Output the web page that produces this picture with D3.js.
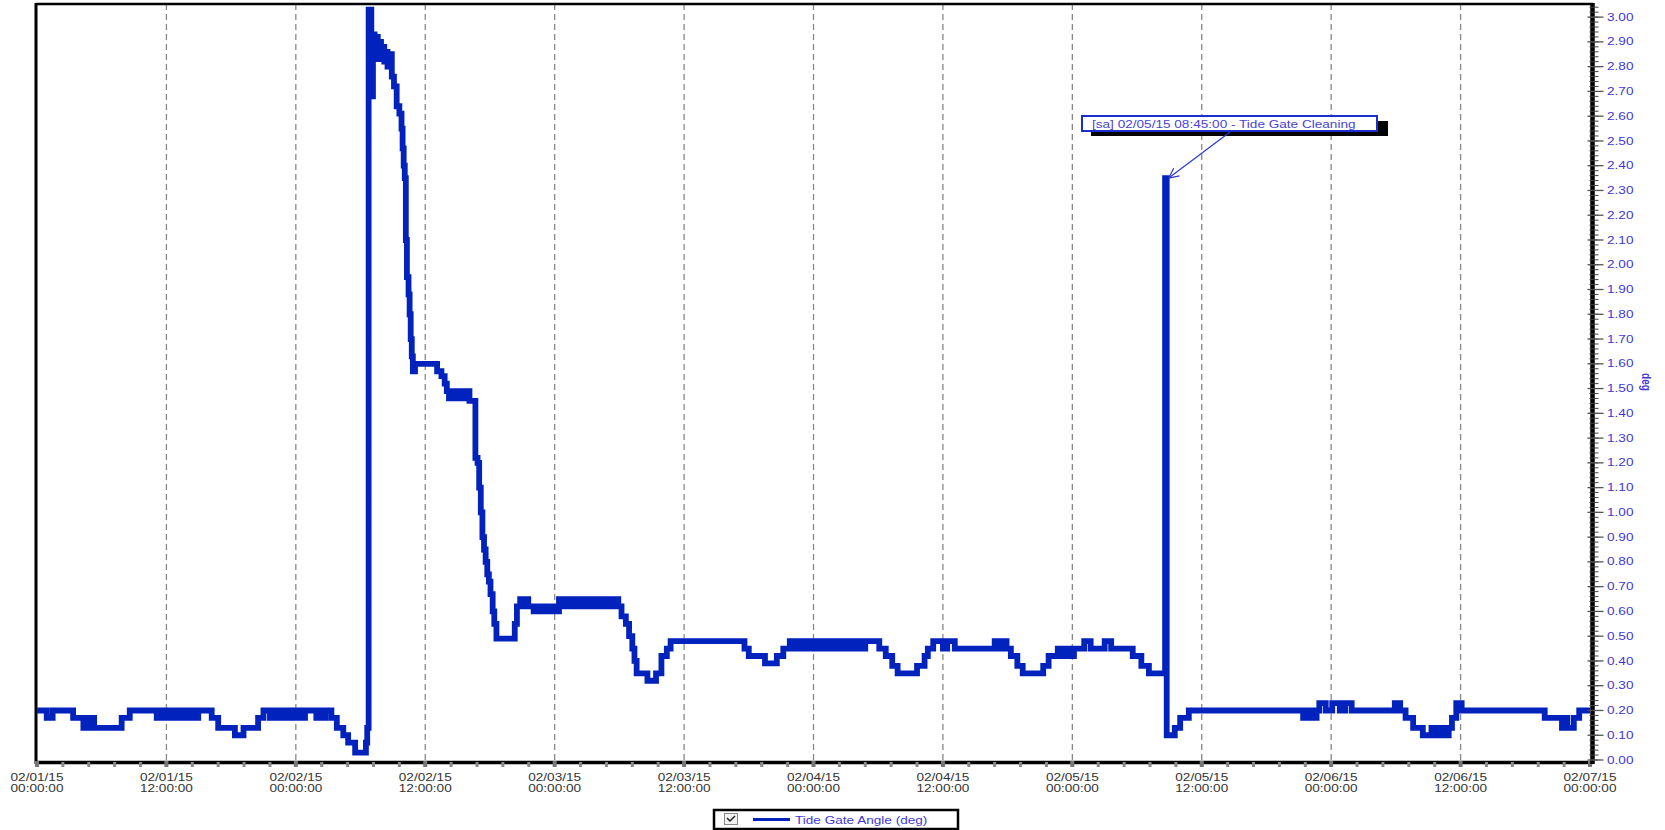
<!DOCTYPE html>
<html>
<head>
<meta charset="utf-8">
<script src="https://cdn.jsdelivr.net/npm/d3@7"></script>
<style>
  body { margin: 0; background: #fff; }
  svg { display: block; font-family: Arial, "Liberation Sans", Helvetica, sans-serif; }
</style>
</head>
<body>
<svg id="chart" width="1665" height="830"></svg>
<script>
// ============================================
// Tide Gate Angle — 02/01/15 to 02/07/15
// ============================================

// [hours since 02/01/15 00:00, angle (deg)] — step series
const tideGateAngle = [
  [0, 0.20], [0.9, 0.17], [1.45, 0.20],
  [3.35, 0.17], [4.3, 0.13], [4.55, 0.17], [4.8, 0.13], [5.05, 0.17], [5.3, 0.13],
  [7.85, 0.17], [8.6, 0.20],
  [11.1, 0.17], [11.35, 0.20], [11.6, 0.17], [11.85, 0.20], [12.1, 0.17], [12.35, 0.20], [12.6, 0.17],
  [12.85, 0.20], [13.1, 0.17], [13.35, 0.20], [13.6, 0.17], [13.85, 0.20], [14.1, 0.17], [14.35, 0.20],
  [14.6, 0.17], [14.95, 0.20],
  [16.2, 0.17], [16.8, 0.13], [18.35, 0.10], [19.15, 0.13], [20.5, 0.17], [21.0, 0.20],
  [21.6, 0.17], [21.85, 0.20], [22.1, 0.17], [22.4, 0.20], [22.7, 0.17], [23.0, 0.20], [23.3, 0.17],
  [23.6, 0.20], [23.9, 0.17], [24.2, 0.20], [24.5, 0.17], [24.85, 0.20],
  [25.9, 0.17], [26.15, 0.20], [26.5, 0.17], [26.75, 0.20],
  [27.3, 0.17], [27.8, 0.13], [28.4, 0.10], [28.85, 0.07], [29.5, 0.03], [30.5, 0.07], [30.62, 0.13],
  [30.75, 3.03], [31.0, 2.68], [31.15, 2.93], [31.3, 2.83], [31.45, 2.92], [31.6, 2.84], [31.75, 2.90],
  [31.9, 2.83], [32.05, 2.88], [32.2, 2.82], [32.35, 2.86], [32.5, 2.80], [32.65, 2.85],
  [32.9, 2.76], [33.1, 2.72], [33.35, 2.64], [33.6, 2.61], [33.8, 2.55], [33.9, 2.47], [34.0, 2.40],
  [34.1, 2.35], [34.2, 2.10], [34.3, 1.95], [34.45, 1.88], [34.55, 1.80], [34.65, 1.70], [34.75, 1.63],
  [34.85, 1.57], [35.05, 1.60],
  [37.1, 1.57], [37.5, 1.55], [37.8, 1.52], [38.0, 1.49], [38.2, 1.46], [38.5, 1.49], [38.8, 1.46],
  [39.3, 1.49], [39.6, 1.46], [39.9, 1.49], [40.1, 1.45],
  [40.65, 1.22], [40.85, 1.20], [41.0, 1.10], [41.15, 1.00], [41.3, 0.90], [41.45, 0.85], [41.6, 0.80],
  [41.75, 0.75], [41.9, 0.72], [42.05, 0.67], [42.25, 0.60], [42.4, 0.55], [42.6, 0.49],
  [44.3, 0.55], [44.5, 0.62], [44.8, 0.65], [45.05, 0.62], [45.3, 0.65], [45.55, 0.62],
  [45.8, 0.62], [46.05, 0.60], [46.3, 0.62], [46.55, 0.60], [46.8, 0.62], [47.05, 0.60], [47.3, 0.62],
  [47.55, 0.60], [47.8, 0.62], [48.05, 0.60],
  [48.4, 0.65], [48.7, 0.62], [49.0, 0.65], [49.5, 0.62], [49.8, 0.65], [50.1, 0.62], [50.4, 0.65],
  [50.9, 0.62], [51.2, 0.65], [51.5, 0.62], [51.8, 0.65], [52.1, 0.62], [52.4, 0.65], [52.7, 0.62],
  [53.0, 0.65], [53.3, 0.62], [53.6, 0.65], [53.9, 0.62],
  [54.2, 0.58], [54.6, 0.55], [54.9, 0.50], [55.2, 0.45], [55.4, 0.40], [55.6, 0.35], [56.6, 0.32],
  [57.4, 0.35], [57.9, 0.42], [58.4, 0.45], [58.75, 0.48],
  [65.6, 0.45], [66.0, 0.42], [67.5, 0.39], [68.6, 0.42], [69.2, 0.45],
  [69.8, 0.48], [70.1, 0.45], [70.4, 0.48], [70.7, 0.45], [71.0, 0.48], [71.3, 0.45], [71.6, 0.48],
  [71.9, 0.45], [72.2, 0.48], [72.6, 0.45], [72.9, 0.48], [73.2, 0.45], [73.5, 0.48], [73.9, 0.45],
  [74.2, 0.48], [74.5, 0.45], [74.8, 0.48], [75.3, 0.45], [75.6, 0.48], [75.9, 0.45], [76.2, 0.48],
  [76.5, 0.45], [76.8, 0.48],
  [78.1, 0.45], [78.7, 0.42], [79.3, 0.38], [79.8, 0.35], [81.6, 0.38], [82.3, 0.42], [82.6, 0.45],
  [83.1, 0.48], [84.0, 0.45], [84.4, 0.48], [85.1, 0.45],
  [88.8, 0.48], [89.1, 0.45], [89.5, 0.48], [89.9, 0.45], [90.3, 0.42], [90.9, 0.38], [91.4, 0.35],
  [93.3, 0.38], [93.8, 0.42],
  [94.4, 0.42], [94.65, 0.45], [94.9, 0.42], [95.15, 0.45], [95.4, 0.42], [95.65, 0.45], [95.9, 0.42],
  [96.15, 0.45], [97.1, 0.48], [97.7, 0.45], [99.0, 0.48], [99.6, 0.45],
  [101.6, 0.42], [102.4, 0.38], [103.1, 0.35],
  [104.6, 2.35], [104.75, 0.10],
  [105.5, 0.13], [106.0, 0.17], [106.8, 0.20],
  [117.4, 0.17], [117.65, 0.20], [117.9, 0.17], [118.15, 0.20], [118.4, 0.17], [118.65, 0.20],
  [118.9, 0.23], [119.5, 0.20], [120.1, 0.23], [120.8, 0.20], [121.3, 0.23], [121.9, 0.20],
  [125.9, 0.23], [126.4, 0.20], [126.9, 0.17], [127.6, 0.13], [128.5, 0.10],
  [129.3, 0.13], [129.55, 0.10], [129.8, 0.13], [130.05, 0.10], [130.3, 0.13], [130.55, 0.10],
  [130.9, 0.13], [131.2, 0.17], [131.6, 0.23], [132.1, 0.20],
  [139.8, 0.17], [141.4, 0.13], [141.65, 0.17], [141.9, 0.13], [142.5, 0.17], [143.0, 0.20],
  [144, 0.20]
];

const startDate = new Date(2015, 1, 1, 0, 0, 0);
const endDate = new Date(2015, 1, 7, 0, 0, 0);
const yMax = 3.053;
const yMajorStep = 0.1;
const yMinorStep = 0.02;
const xMinorStepHours = 2.4;
const seriesLabel = 'Tide Gate Angle (deg)';
const axisTitle = 'deg';
const annotationLabel = '[sa] 02/05/15 08:45:00 - Tide Gate Cleaning';
const annotationPoint = [104.75, 2.35];

const lineColor = '#0222be';
const labelBlue = '#3f37d6';
const stretch = 1.36; // the source image is stretched horizontally

const svg = d3.select('#chart');
const plotLeft = 37, plotRight = 1590, plotTop = 4, plotBottom = 760;

const hourToDate = h => new Date(startDate.getTime() + h * 3600e3);

const x = d3.scaleTime().domain([startDate, endDate]).range([plotLeft, plotRight]);
const y = d3.scaleLinear().domain([0, yMax]).range([plotBottom, plotTop]);

// helper: text stretched like the original picture
function stretchedText(g, tx, ty, str, anchor, fill, size) {
  return g.append('text')
    .attr('transform', `translate(${tx},${ty}) scale(${stretch},1)`)
    .attr('text-anchor', anchor)
    .attr('fill', fill)
    .attr('font-size', size + 'px')
    .text(str);
}

// Vertical dashed gridlines every 12 hours
const majorTicks = x.ticks(d3.timeHour.every(12));
svg.append('g').selectAll('line')
  .data(majorTicks.filter(d => +d > +startDate && +d < +endDate))
  .join('line')
  .attr('x1', d => x(d)).attr('x2', d => x(d))
  .attr('y1', plotTop).attr('y2', plotBottom + 1)
  .attr('stroke', '#888')
  .attr('stroke-width', 1.3)
  .attr('stroke-dasharray', '6,4');

// Frame (top + left)
svg.append('line').attr('x1', 36).attr('x2', plotRight + 3).attr('y1', 4).attr('y2', 4)
  .attr('stroke', '#000').attr('stroke-width', 2.5);
svg.append('line').attr('x1', 36).attr('x2', 36).attr('y1', 3).attr('y2', 764)
  .attr('stroke', '#000').attr('stroke-width', 3);

// Data line
const line = d3.line()
  .x(d => x(hourToDate(d[0])))
  .y(d => y(d[1]))
  .curve(d3.curveStepAfter);

svg.append('path')
  .datum(tideGateAngle)
  .attr('d', line)
  .attr('fill', 'none')
  .attr('stroke', lineColor)
  .attr('stroke-width', 5.8)
  .attr('stroke-linejoin', 'miter')
  .attr('stroke-linecap', 'butt');

// Bottom axis
const xAxis = svg.append('g');
xAxis.append('line')
  .attr('x1', 35).attr('x2', plotRight + 3)
  .attr('y1', 762.5).attr('y2', 762.5)
  .attr('stroke', '#000').attr('stroke-width', 3.5);

const minorHours = d3.range(0, 144 + 0.001, xMinorStepHours);
xAxis.selectAll('rect.minor')
  .data(minorHours)
  .join('rect')
  .attr('class', 'minor')
  .attr('x', d => x(hourToDate(d)) - 1.5)
  .attr('y', 762)
  .attr('width', 3).attr('height', 5)
  .attr('fill', '#8a8a8a');

xAxis.selectAll('rect.major')
  .data(majorTicks)
  .join('rect')
  .attr('class', 'major')
  .attr('x', d => x(d) - 2)
  .attr('y', 761)
  .attr('width', 4).attr('height', 6)
  .attr('fill', '#777');

const fmtDate = d3.timeFormat('%m/%d/%y');
const fmtTime = d3.timeFormat('%H:%M:%S');
majorTicks.forEach(d => {
  stretchedText(xAxis, x(d), 780.5, fmtDate(d), 'middle', '#333', 10);
  stretchedText(xAxis, x(d), 792, fmtTime(d), 'middle', '#333', 10);
});

// Right axis
const yAxis = svg.append('g');
const axisX = 1592.5;
yAxis.append('line')
  .attr('x1', axisX).attr('x2', axisX)
  .attr('y1', 3).attr('y2', 764)
  .attr('stroke', '#000').attr('stroke-width', 4.5);

const minorValues = d3.range(0, yMax, yMinorStep);
yAxis.selectAll('line.minor')
  .data(minorValues)
  .join('line')
  .attr('class', 'minor')
  .attr('x1', axisX - 3).attr('x2', axisX + 6)
  .attr('y1', d => y(d)).attr('y2', d => y(d))
  .attr('stroke', '#444').attr('stroke-width', 1);

const majorValues = d3.range(0, 3.0001, yMajorStep);
yAxis.selectAll('line.major')
  .data(majorValues)
  .join('line')
  .attr('class', 'major')
  .attr('x1', axisX - 5).attr('x2', axisX + 11)
  .attr('y1', d => y(d)).attr('y2', d => y(d))
  .attr('stroke', '#555').attr('stroke-width', 1.3);

majorValues.forEach(v => {
  stretchedText(yAxis, 1607, y(v) + 3.6, d3.format('.2f')(v), 'start', labelBlue, 10);
});

// Axis title, rotated
svg.append('text')
  .attr('transform', `translate(1642,382) rotate(90) scale(1,${stretch})`)
  .attr('text-anchor', 'middle')
  .attr('fill', labelBlue)
  .attr('font-size', '10px')
  .attr('font-weight', 'bold')
  .text(axisTitle);

// Annotation
const ann = svg.append('g');
const boxX = 1082, boxY = 116, boxW = 295, boxH = 15;
ann.append('rect')
  .attr('x', boxX + 9).attr('y', boxY + 5)
  .attr('width', boxW + 2).attr('height', boxH)
  .attr('fill', '#000');
ann.append('rect')
  .attr('x', boxX).attr('y', boxY)
  .attr('width', boxW).attr('height', boxH)
  .attr('fill', '#fff')
  .attr('stroke', '#1c2fcc').attr('stroke-width', 2);
stretchedText(ann, boxX + 10, boxY + 11.5, annotationLabel, 'start', '#4a3fd6', 10);

const tipX = x(hourToDate(annotationPoint[0])) + 2;
const tipY = y(annotationPoint[1]);
const fromX = 1230, fromY = boxY + boxH + 1;
ann.append('line')
  .attr('x1', fromX).attr('y1', fromY)
  .attr('x2', tipX).attr('y2', tipY)
  .attr('stroke', '#2a3ad0').attr('stroke-width', 1.2);
const ang = Math.atan2(fromY - tipY, fromX - tipX);
[-0.45, 0.45].forEach(da => {
  ann.append('line')
    .attr('x1', tipX).attr('y1', tipY)
    .attr('x2', tipX + 11 * Math.cos(ang + da))
    .attr('y2', tipY + 11 * Math.sin(ang + da))
    .attr('stroke', '#2a3ad0').attr('stroke-width', 1.2);
});

// Legend
const legend = svg.append('g');
legend.append('rect')
  .attr('x', 714).attr('y', 810)
  .attr('width', 244).attr('height', 19)
  .attr('fill', '#fff')
  .attr('stroke', '#000').attr('stroke-width', 2.5);
legend.append('rect')
  .attr('x', 724.5).attr('y', 813.5)
  .attr('width', 13).attr('height', 11)
  .attr('fill', '#f2f2f2')
  .attr('stroke', '#888').attr('stroke-width', 1);
legend.append('path')
  .attr('d', 'M727,818 L730,821 L735,816')
  .attr('fill', 'none')
  .attr('stroke', '#222').attr('stroke-width', 1.5);
legend.append('line')
  .attr('x1', 753).attr('x2', 790)
  .attr('y1', 819.5).attr('y2', 819.5)
  .attr('stroke', lineColor).attr('stroke-width', 3);
stretchedText(legend, 795, 823.5, seriesLabel, 'start', labelBlue, 10);
</script>
</body>
</html>
